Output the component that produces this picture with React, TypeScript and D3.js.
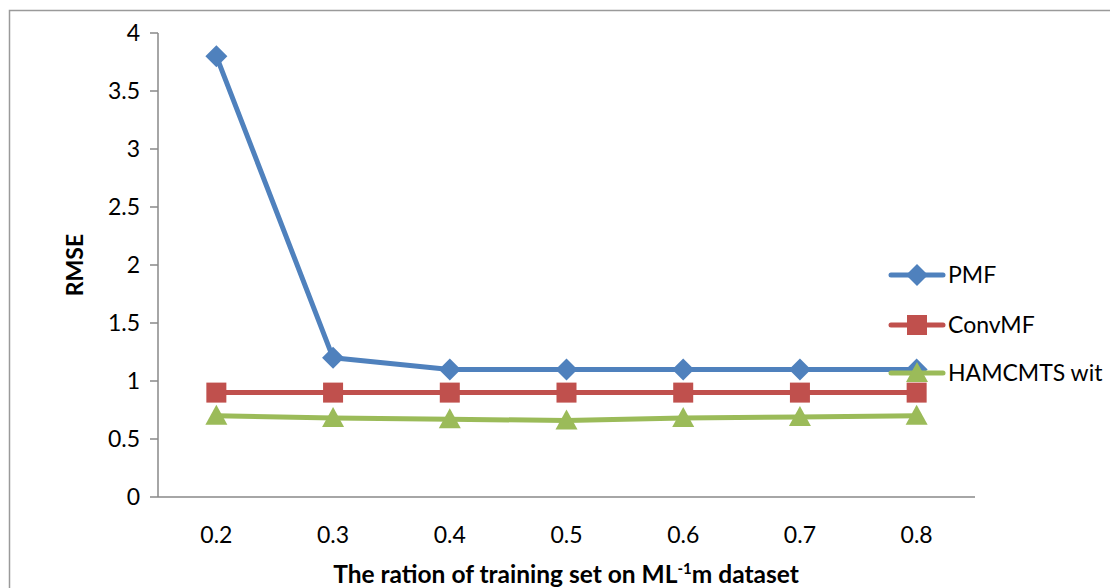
import React from "react";
import * as d3 from "d3";

const categories = ["0.2", "0.3", "0.4", "0.5", "0.6", "0.7", "0.8"];
const pmf = [3.8, 1.2, 1.1, 1.1, 1.1, 1.1, 1.1];
const convmf = [0.9, 0.9, 0.9, 0.9, 0.9, 0.9, 0.9];
const hamcmts = [0.7, 0.68, 0.67, 0.66, 0.68, 0.69, 0.7];
const yTicks = [0, 0.5, 1, 1.5, 2, 2.5, 3, 3.5, 4];
const seriesNames = ["PMF", "ConvMF", "HAMCMTS wit"];

const W = 1110, H = 588;
const FONT = "Lato, 'Open Sans', sans-serif";

export default function App() {
  const x = d3.scaleBand().domain(categories).range([158, 975]);
  const y = d3.scaleLinear().domain([0, 4]).range([497, 33]);
  const cx = (c: string) => (x(c) as number) + x.bandwidth() / 2;
  const line = d3.line<[number, number]>().x(d => d[0]).y(d => d[1]);

  const series = [
    { name: seriesNames[0], vals: pmf, color: "#4F81BD", marker: "diamond" },
    { name: seriesNames[1], vals: convmf, color: "#C0504D", marker: "square" },
    { name: seriesNames[2], vals: hamcmts, color: "#9BBB59", marker: "triangle" },
  ];

  const marker = (type: string, px: number, py: number, color: string, key: string) => {
    if (type === "diamond") {
      const s = 11;
      return <path key={key} d={`M${px},${py - s}L${px + s},${py}L${px},${py + s}L${px - s},${py}Z`} fill={color} />;
    }
    if (type === "square") {
      const s = 10;
      return <rect key={key} x={px - s} y={py - s} width={2 * s} height={2 * s} fill={color} />;
    }
    const s = 11;
    return <path key={key} d={`M${px},${py - s}L${px + s},${py + 9}L${px - s},${py + 9}Z`} fill={color} />;
  };

  const legendY = [275, 325, 373];

  return (
    <svg width={W} height={H} style={{ position: "absolute", left: 0, top: 0, background: "#fff" }}>
      <rect x={9.5} y={10.5} width={1200} height={700} fill="#fff" stroke="#9a9a9a" strokeWidth={1.5} />
      {/* y axis */}
      <line x1={158} x2={158} y1={y(4)} y2={y(0)} stroke="#888" strokeWidth={1.5} />
      {yTicks.map(t => (
        <g key={t}>
          <line x1={150} x2={158} y1={y(t)} y2={y(t)} stroke="#888" strokeWidth={1.5} />
          <text x={140} y={y(t)} dy="0.35em" textAnchor="end" fontSize={23} fontFamily={FONT} fill="#000">{t}</text>
        </g>
      ))}
      {/* x axis */}
      <line x1={158} x2={975} y1={y(0)} y2={y(0)} stroke="#888" strokeWidth={1.5} />
      {categories.map(c => (
        <text key={c} x={cx(c)} y={535} dy="0.35em" textAnchor="middle" fontSize={23} fontFamily={FONT} fill="#000">{c}</text>
      ))}
      <text x={566} y={574} dy="0.35em" textAnchor="middle" fontSize={24.5} fontWeight="bold" fontFamily={FONT} fill="#000">
        The ration of training set on ML<tspan dy="-9" fontSize={15}>-1</tspan><tspan dy="9">m dataset</tspan>
      </text>
      <text transform={`translate(75,265) rotate(-90)`} dy="0.35em" textAnchor="middle" fontSize={23} fontWeight="bold" fontFamily={FONT} fill="#000">RMSE</text>
      {/* series */}
      {series.map(s => (
        <g key={s.name}>
          <path d={line(s.vals.map((v, i) => [cx(categories[i]), y(v)]))!} fill="none" stroke={s.color} strokeWidth={5} strokeLinejoin="round" strokeLinecap="round" />
          {s.vals.map((v, i) => marker(s.marker, cx(categories[i]), y(v), s.color, s.name + i))}
        </g>
      ))}
      {/* legend */}
      {series.map((s, i) => (
        <g key={"lg" + s.name}>
          <line x1={891} x2={943} y1={legendY[i]} y2={legendY[i]} stroke={s.color} strokeWidth={5} strokeLinecap="round" />
          {marker(s.marker, 917, legendY[i], s.color, "lgm" + i)}
          <text x={948} y={legendY[i]} dy="0.35em" fontSize={23} fontFamily={FONT} fill="#000">{s.name}</text>
        </g>
      ))}
    </svg>
  );
}
